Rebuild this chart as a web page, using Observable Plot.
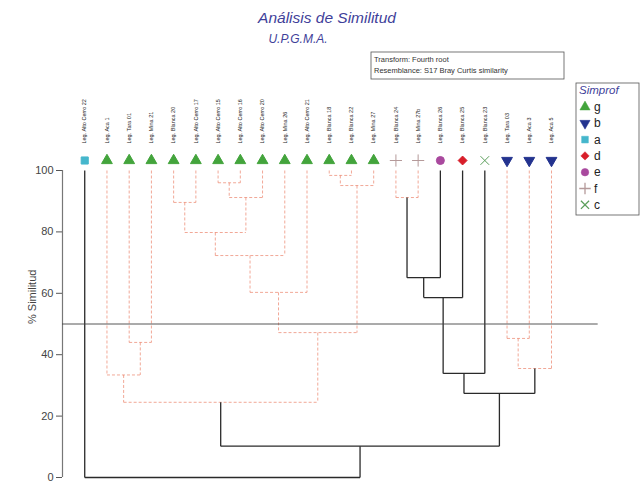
<!DOCTYPE html>
<html>
<head>
<meta charset="utf-8">
<script src="https://cdn.jsdelivr.net/npm/d3@7"></script>
<script src="https://cdn.jsdelivr.net/npm/@observablehq/plot@0.6"></script>
<style>
  body { margin: 0; background: #fff; }
  #chart { width: 642px; height: 483px; }
</style>
</head>
<body>
<div id="chart"></div>
<script>
// ---------- data ----------
const leafLabels = [
  "Leg. Alto Cerro 22", "Leg. Aca 1", "Leg. Tara 01", "Leg. Mina 21", "Leg. Blanca 20",
  "Leg. Alto Cerro 17", "Leg. Alto Cerro 15", "Leg. Alto Cerro 16", "Leg. Alto Cerro 20",
  "Leg. Mina 26", "Leg. Alto Cerro 21", "Leg. Blanca 18", "Leg. Blanca 22", "Leg. Mina 27",
  "Leg. Blanca 24", "Leg. Mina 27b", "Leg. Blanca 26", "Leg. Blanca 25", "Leg. Blanca 23",
  "Leg. Tara 03", "Leg. Aca 3", "Leg. Aca 5"
];
const leafGroups = [
  "a", "g", "g", "g", "g", "g", "g", "g", "g", "g", "g", "g", "g", "g",
  "f", "f", "e", "d", "c", "b", "b", "b"
];
// merges: children ("L<i>" leaf, "M<k>" merge), similarity height, significant?
const mergeLeft   = ["L4","L6","M1","M0","M3","M4","L11","M6","M5","L2","L1","M10","L14","M12","M13","M14","L19","M16","M15","M11","L0"];
const mergeRight  = ["L5","L7","L8","M2","L9","L10","L12","L13","M7","L3","M9","M8","L15","L16","L17","L18","L20","L21","M17","M18","M19"];
const mergeHeight = [89.6, 96.0, 91.2, 79.8, 72.3, 60.3, 98.4, 95.1, 47.2, 44.0, 33.4, 24.5, 91.2, 65.1, 58.6, 33.9, 45.3, 35.5, 27.4, 10.2, 0];
const mergeSignif = [false,false,false,false,false,false,false,false,false,false,false,false,false,true,true,true,false,false,true,true,true];

const cutLevel = [50];
const yTicks = [0, 20, 40, 60, 80, 100];

const legendGroups  = ["g", "b", "a", "d", "e", "f", "c"];
const groupSymbols  = ["triangle", "triangle", "square", "diamond2", "circle", "plus", "times"];
const groupColors   = ["#43a43c", "#23338f", "#45b6cc", "#d81e2a", "#a9499e", "#b59a9a", "#5a9e5a"];
const groupRotate   = [0, 180, 0, 0, 0, 0, 0];

const titleText = "Análisis de Similitud";
const subtitleText = "U.P.G.M.A.";
const infoLines = ["Transform: Fourth root", "Resemblance: S17 Bray Curtis similarity"];
const yLabel = "% Similitud";
const legendTitle = "Simprof";

// ---------- build tree geometry ----------
const leaves = leafLabels.map((label, i) => ({i, label, group: leafGroups[i]}));
const nodeX = {}, nodeH = {};
leaves.forEach(l => { nodeX["L" + l.i] = l.i; nodeH["L" + l.i] = 100; });
const segments = [];
mergeLeft.forEach((a, k) => {
  const b = mergeRight[k], h = mergeHeight[k], sig = mergeSignif[k];
  const xa = nodeX[a], xb = nodeX[b];
  segments.push({x1: xa, y1: nodeH[a], x2: xa, y2: h, sig});
  segments.push({x1: xb, y1: nodeH[b], x2: xb, y2: h, sig});
  segments.push({x1: xa, y1: h, x2: xb, y2: h, sig});
  nodeX["M" + k] = (xa + xb) / 2;
  nodeH["M" + k] = h;
});

const gi = g => legendGroups.indexOf(g);
const font = "Liberation Sans, Arial, sans-serif";

const plot = Plot.plot({
  width: 642,
  height: 483,
  marginLeft: 62,
  marginRight: 91,
  marginTop: 170,
  marginBottom: 6,
  style: {fontFamily: font, background: "#fff"},
  x: {domain: [-1, leaves.length - 1], axis: null},
  y: {domain: [0, 100], axis: null},
  symbol: {domain: legendGroups, range: groupSymbols},
  color: {domain: legendGroups, range: groupColors},
  marks: [
    Plot.axisY({ticks: yTicks, tickSize: 6, tickPadding: 3, fontSize: 11, stroke: "#555", color: "#444", label: null}),
    Plot.ruleX([-1], {y1: 0, y2: 100, stroke: "#777", strokeWidth: 1.2}),
    Plot.text([yLabel], {frameAnchor: "left", dx: -30, rotate: -90, fontSize: 11, fill: "#444"}),
    Plot.link(segments.filter(s => !s.sig), {x1: "x1", y1: "y1", x2: "x2", y2: "y2", stroke: "#e9795f", strokeWidth: 1, strokeOpacity: 0.65, strokeDasharray: "3,2"}),
    Plot.link(segments.filter(s => s.sig), {x1: "x1", y1: "y1", x2: "x2", y2: "y2", stroke: "#2a2a2a", strokeWidth: 1.3}),
    Plot.ruleY(cutLevel, {x1: -1, x2: leaves.length + 1.1, stroke: "#444", strokeWidth: 0.9}),
    Plot.dot(leaves, {x: "i", y: 100, dy: -10, r: 4, symbol: "group", fill: "group", stroke: "group", strokeWidth: 1,
      rotate: d => groupRotate[gi(d.group)]}),
    Plot.text(leaves, {x: "i", y: 100, dy: -27, text: "label", rotate: -90, textAnchor: "start", fontSize: 5.5, fill: "#222"})
  ]
});

const svg = d3.select(plot);
const addText = (sel, x, y, t, size, opts = {}) => sel.append("text")
  .attr("x", x).attr("y", y).attr("text-anchor", opts.anchor || "start")
  .attr("font-family", font).attr("font-size", size)
  .attr("font-style", opts.italic ? "italic" : "normal")
  .attr("fill", opts.fill || "#222").text(t);

// title & subtitle
addText(svg, 327, 23, titleText, 15.5, {anchor: "middle", italic: true, fill: "#3f3f9a"});
addText(svg, 298, 43, subtitleText, 12, {anchor: "middle", italic: true, fill: "#3f3f9a"});
// info box
const info = svg.append("g");
info.append("rect").attr("x", 371).attr("y", 52).attr("width", 193).attr("height", 27)
  .attr("fill", "#fff").attr("stroke", "#555").attr("stroke-width", 0.8);
infoLines.forEach((t, i) => addText(info, 374, 62 + i * 11, t, 7.5, {fill: "#333"}));
// legend
const leg = svg.append("g");
leg.append("rect").attr("x", 576).attr("y", 83).attr("width", 63).attr("height", 132)
  .attr("fill", "#fff").attr("stroke", "#555").attr("stroke-width", 0.8);
addText(leg, 579, 94, legendTitle, 11.5, {italic: true, fill: "#3f3f9a"});
const symMap = {triangle: d3.symbolTriangle, square: d3.symbolSquare, diamond2: d3.symbolDiamond2, circle: d3.symbolCircle, plus: d3.symbolPlus, times: d3.symbolTimes};
legendGroups.forEach((g, i) => {
  const y = 107 + i * 16.3;
  const stroke = groupSymbols[i] === "plus" || groupSymbols[i] === "times";
  leg.append("path").attr("d", d3.symbol(symMap[groupSymbols[i]], 45)())
    .attr("transform", `translate(585,${y}) rotate(${groupRotate[i]})`)
    .attr("fill", stroke ? "none" : groupColors[i]).attr("stroke", groupColors[i]).attr("stroke-width", stroke ? 1.3 : 0.5);
  addText(leg, 594, y + 4, g, 12, {fill: "#222"});
});

document.getElementById("chart").appendChild(plot);
</script>
</body>
</html>
